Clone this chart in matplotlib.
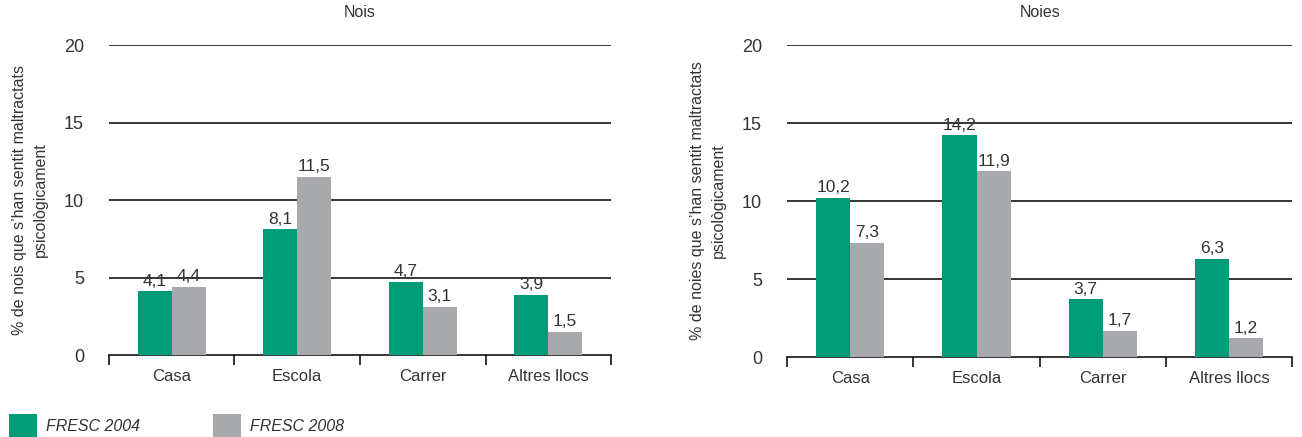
import matplotlib
matplotlib.use('Agg')
import matplotlib.pyplot as plt

plt.rcParams['font.family'] = ['Liberation Sans', 'DejaVu Sans']

# dades
llocs = ['Casa', 'Escola', 'Carrer', 'Altres llocs']
nois_2004 = [4.1, 8.1, 4.7, 3.9]
nois_2008 = [4.4, 11.5, 3.1, 1.5]
noies_2004 = [10.2, 14.2, 3.7, 6.3]
noies_2008 = [7.3, 11.9, 1.7, 1.2]
series_labels = ['FRESC 2004', 'FRESC 2008']
titols = ['Nois', 'Noies']
ylabels = ['% de nois que s\u2019han sentit maltractats\npsicològicament',
           '% de noies que s\u2019han sentit maltractats\npsicològicament']

verd = '#009B77'
gris = '#A7A9AC'
txt = '#333333'

fig = plt.figure(figsize=(13.02, 4.37), dpi=100)
ax1 = fig.add_axes([0.0837, 0.1876, 0.3856, 0.7094])
ax2 = fig.add_axes([0.6045, 0.183, 0.3880, 0.7140])

w = 0.27
handles = None
for ax, v1, v2, tit, yl in [(ax1, nois_2004, nois_2008, titols[0], ylabels[0]),
                            (ax2, noies_2004, noies_2008, titols[1], ylabels[1])]:
    centres = [i + 0.5 for i in range(len(llocs))]
    b1 = ax.bar([c - w / 2 for c in centres], v1, width=w, color=verd, zorder=3, label=series_labels[0])
    b2 = ax.bar([c + w / 2 for c in centres], v2, width=w, color=gris, zorder=3, label=series_labels[1])
    if handles is None:
        handles = [b1, b2]
    for bars, vals in [(b1, v1), (b2, v2)]:
        for r, v in zip(bars, vals):
            ax.annotate(('%.1f' % v).replace('.', ','), (r.get_x() + r.get_width() / 2, v),
                        xytext=(0, 2), textcoords='offset points', ha='center', va='bottom',
                        fontsize=12.5, color=txt, zorder=4)
    ax.set_xlim(0, 4)
    ax.set_ylim(0, 20)
    ax.set_yticks([0, 5, 10, 15, 20])
    for g in [5, 10, 15, 20]:
        ax.axhline(g, color='black', linewidth=1.1, zorder=1)
    ax.set_xticks([0, 1, 2, 3, 4])
    ax.set_xticklabels([])
    ax.set_xticks(centres, minor=True)
    ax.set_xticklabels(llocs, minor=True)
    ax.tick_params(axis='x', which='major', length=7, width=1.1, direction='out', color='black')
    ax.tick_params(axis='x', which='minor', length=0, pad=10, labelsize=12, labelcolor=txt)
    ax.tick_params(axis='y', length=0, pad=18, labelsize=13, labelcolor=txt)
    for s in ['left', 'right', 'top']:
        ax.spines[s].set_visible(False)
    ax.spines['bottom'].set_linewidth(1.1)
    ax.set_title(tit, fontsize=11.5, color=txt, pad=20)
    ax.set_ylabel(yl, fontsize=11.5, color=txt, linespacing=1.45)
    ax.yaxis.set_label_coords(-0.122, 0.5)

fig.legend(handles, series_labels, loc='lower left', bbox_to_anchor=(-0.004, -0.035), ncol=2,
           frameon=False, handlelength=1.75, handleheight=1.95, columnspacing=4.6, handletextpad=0.55,
           prop={'style': 'italic', 'size': 11.5}, labelcolor=txt)

fig.savefig('out.png', dpi=100)
